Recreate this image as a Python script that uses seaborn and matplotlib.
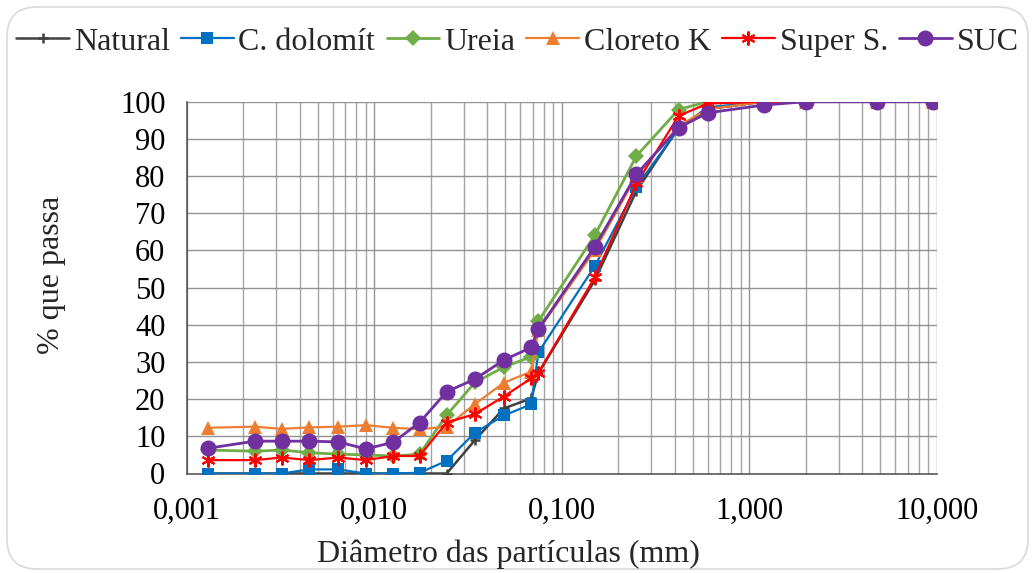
import matplotlib
matplotlib.use("Agg")
import matplotlib.pyplot as plt
import seaborn as sns
import numpy as np
import pandas as pd
from matplotlib.patches import FancyBboxPatch
from matplotlib.ticker import FixedLocator, FixedFormatter, LogLocator, NullFormatter

# ---- data ----
diametro = [0.0013, 0.0023, 0.0032, 0.0045, 0.0064, 0.009, 0.0126, 0.0174, 0.0243,
            0.0344, 0.049, 0.0686, 0.075, 0.15, 0.25, 0.42, 0.6, 1.2, 2.0, 4.8, 9.5]
natural = [0, 0, 0, 0, 0, 0, 0, 0, 0, 9.0, 17.5, 20.2, 27.0, 52.0, 76.0, 93.0, 98.0, 100, 100, 100, 100]
dolomito = [0, 0, 0, 1.1, 1.1, 0, 0, 0.2, 3.4, 11.0, 15.6, 18.6, 32.6, 55.8, 77.1, 92.8, 98.5, 100, 100, 100, 100]
ureia = [6.3, 6.0, 6.3, 5.6, 5.2, 5.0, 4.7, 5.2, 15.7, 24.5, 28.6, 31.4, 41.0, 64.1, 85.4, 97.9, 100, 100, 100, 100, 100]
cloreto = [12.3, 12.6, 12.0, 12.4, 12.6, 13.0, 12.3, 11.9, 12.6, 18.7, 24.4, 27.4, 38.6, 60.0, 80.0, 93.5, 98.0, 100, 100, 100, 100]
super_s = [3.6, 3.6, 4.3, 3.6, 4.3, 3.6, 4.7, 4.7, 13.7, 16.0, 20.7, 25.6, 27.1, 52.8, 78.0, 96.2, 99.5, 100, 100, 100, 100]
suc = [6.8, 8.7, 8.7, 8.7, 8.5, 6.6, 8.4, 13.7, 22.0, 25.4, 30.5, 33.9, 38.8, 61.0, 80.5, 93.0, 97.0, 99.1, 100, 100, 100]

series_names = ["Natural", "C. dolomít", "Ureia", "Cloreto K", "Super S.", "SUC"]
series_values = [natural, dolomito, ureia, cloreto, super_s, suc]

x_ticks = [0.001, 0.01, 0.1, 1, 10]
x_tick_labels = ["0,001", "0,010", "0,100", "1,000", "10,000"]
y_ticks = list(range(0, 101, 10))

# ---- styles ----
styles = {
    "Natural":    dict(color="#404040", marker="+", ms=7, mew=1.8, lw=1.8),
    "C. dolomít": dict(color="#0070C0", marker="s", ms=8, mew=0, lw=1.6),
    "Ureia":      dict(color="#70AD47", marker="D", ms=8, mew=0, lw=2.0),
    "Cloreto K":  dict(color="#ED7D31", marker="^", ms=10, mew=0, lw=1.6),
    "Super S.":   dict(color="#FF0000", marker=(6, 2, 0), ms=10, mew=1.5, lw=1.6),
    "SUC":        dict(color="#7030A0", marker="o", ms=11.5, mew=0, lw=2.0),
}

sns.set_theme(style="white")
plt.rcParams["font.family"] = ["Liberation Serif", "DejaVu Serif"]

fig = plt.figure(figsize=(10.35, 5.73), dpi=100)
W, H = 1035, 573
ax = fig.add_axes([187 / W, 1 - 473.5 / H, (936.7 - 187) / W, (473.5 - 101.7) / H])

df = pd.DataFrame({"diam": np.repeat([diametro], len(series_names), axis=0).ravel(),
                   "val": np.concatenate(series_values),
                   "serie": np.repeat(series_names, len(diametro))})

for name in series_names:
    st = styles[name]
    sub = df[df["serie"] == name]
    sns.lineplot(data=sub, x="diam", y="val", ax=ax, color=st["color"], marker=st["marker"],
                 markersize=st["ms"], markeredgewidth=st["mew"], markeredgecolor=st["color"],
                 linewidth=st["lw"], label=name, sort=False, errorbar=None, zorder=3)

ax.set_xscale("log")
ax.set_xlim(0.001, 10)
ax.set_ylim(0, 100)

ax.xaxis.set_major_locator(FixedLocator(x_ticks))
ax.xaxis.set_major_formatter(FixedFormatter(x_tick_labels))
ax.xaxis.set_minor_locator(LogLocator(base=10, subs=np.arange(2, 10)))
ax.xaxis.set_minor_formatter(NullFormatter())
ax.set_yticks(y_ticks)

ax.grid(True, which="major", axis="both", color="#939393", lw=1.0, zorder=0)
ax.grid(True, which="minor", axis="x", color="#a4a4a4", lw=1.0, zorder=0)

for s in ["top", "right"]:
    ax.spines[s].set_visible(False)
for s in ["left", "bottom"]:
    ax.spines[s].set_color("#595959")
    ax.spines[s].set_linewidth(1.2)
    ax.spines[s].set_zorder(2)

ax.tick_params(axis="both", which="major", direction="inout", length=9, width=1.2,
               color="#404040", labelsize=22, labelcolor="black")
ax.tick_params(axis="x", which="major", pad=12)
ax.tick_params(axis="y", which="major", pad=11)
ax.tick_params(axis="x", which="minor", length=0)

ax.set_xlabel("")
ax.set_ylabel("")
fig.text(508 / W, 1 - 554 / H, "Diâmetro das partículas (mm)", ha="center", va="center", fontsize=23)
fig.text(52 / W, 1 - 275 / H, "% que passa", ha="center", va="center", rotation=90, fontsize=23)

ax.get_legend().remove()
handles, labels = ax.get_legend_handles_labels()
fig.legend(handles, labels, loc="center", bbox_to_anchor=(0.5, 1 - 42 / H), ncol=6,
           frameon=False, fontsize=23, handlelength=1.65, handletextpad=0.15,
           columnspacing=0.35, borderaxespad=0)

border = FancyBboxPatch((0.07, 0.04), 10.21, 5.62, boxstyle="round,pad=0,rounding_size=0.3",
                        transform=fig.dpi_scale_trans, fill=False, edgecolor="#d9d9d9", lw=1.2)
fig.patches.append(border)

fig.savefig("out.png", dpi=100)
